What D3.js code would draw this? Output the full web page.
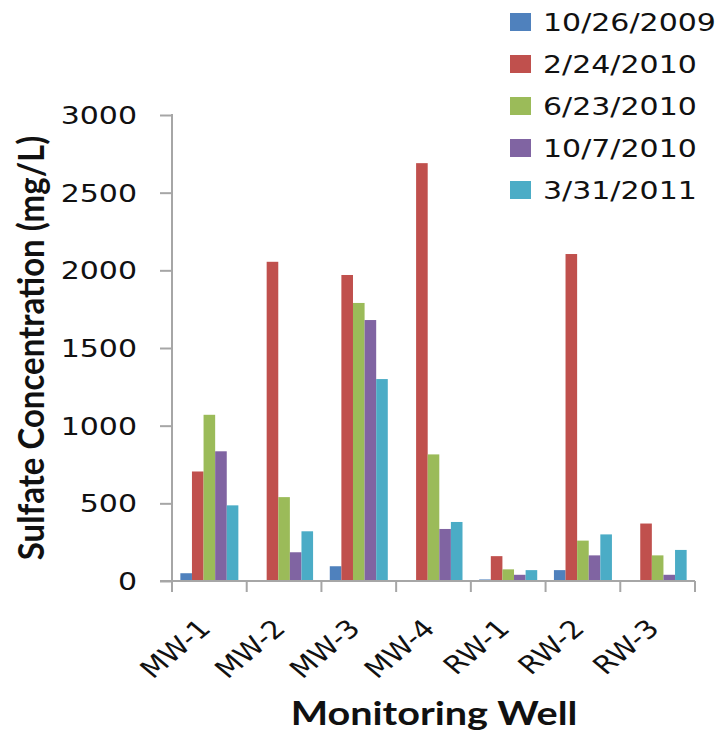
<!DOCTYPE html>
<html>
<head>
<meta charset="utf-8">
<script src="https://cdn.jsdelivr.net/npm/d3@7"></script>
<style>
  html, body { margin: 0; padding: 0; background: #fff; }
  svg { display: block; }
</style>
</head>
<body>
<svg id="chart" width="725" height="733"></svg>
<script>
// Monitoring wells and sampling dates
const wells = ["MW-1", "MW-2", "MW-3", "MW-4", "RW-1", "RW-2", "RW-3"];
const dates = ["10/26/2009", "2/24/2010", "6/23/2010", "10/7/2010", "3/31/2011"];

// Sulfate concentration (mg/L) per well, one array per sampling date
const oct2009 = [50, 0, 95, 0, 10, 70, 0];
const feb2010 = [705, 2055, 1970, 2690, 160, 2105, 370];
const jun2010 = [1070, 540, 1790, 815, 75, 260, 165];
const oct2010 = [835, 185, 1680, 335, 40, 165, 40];
const mar2011 = [487, 320, 1300, 380, 70, 300, 200];
const seriesValues = [oct2009, feb2010, jun2010, oct2010, mar2011];

const seriesColors = ["#4F81BD", "#C0504D", "#9BBB59", "#8064A2", "#4BACC6"];
const yTicks = [0, 500, 1000, 1500, 2000, 2500, 3000];

const svg = d3.select("#chart");
const plot = { left: 172, right: 695, top: 115, bottom: 581 };
const sx = 1.2; // horizontal widening applied to all text

const x = d3.scaleBand().domain(wells).range([plot.left, plot.right]).paddingInner(0).paddingOuter(0);
const xs = d3.scaleBand().domain(dates).range([0, x.bandwidth()]).paddingInner(0).paddingOuter(0.72);
const y = d3.scaleLinear().domain([0, 3000]).range([plot.bottom, plot.top]);

const axisColor = "#a6a6a6";

// Bars
const rows = [];
seriesValues.forEach((vals, si) => {
  vals.forEach((v, wi) => rows.push({ well: wells[wi], date: dates[si], value: v, si }));
});
svg.append("g").selectAll("rect")
  .data(rows.filter(d => d.value > 0))
  .join("rect")
  .attr("x", d => x(d.well) + xs(d.date))
  .attr("y", d => y(d.value))
  .attr("width", xs.bandwidth())
  .attr("height", d => y(0) - y(d.value))
  .attr("fill", d => seriesColors[d.si]);

// Y axis
const yAxis = svg.append("g").attr("transform", `translate(${plot.left},0)`)
  .call(d3.axisLeft(y).tickValues(yTicks).tickSize(12).tickFormat(""));
yAxis.select(".domain").remove();
yAxis.selectAll(".tick line").attr("stroke", axisColor).attr("stroke-width", 2);
svg.append("line")
  .attr("x1", plot.left).attr("x2", plot.left)
  .attr("y1", plot.top - 1).attr("y2", plot.bottom + 11)
  .attr("stroke", axisColor).attr("stroke-width", 2);

svg.append("g").selectAll("text")
  .data(yTicks)
  .join("text")
  .attr("transform", d => `translate(137,${y(d) + 9}) scale(${sx},1)`)
  .attr("text-anchor", "end")
  .attr("font-family", "DejaVu Sans")
  .attr("font-size", 25)
  .attr("fill", "#111")
  .text(d => d);

// X axis
svg.append("line")
  .attr("x1", plot.left - 12).attr("x2", plot.right)
  .attr("y1", plot.bottom).attr("y2", plot.bottom)
  .attr("stroke", axisColor).attr("stroke-width", 2);
const xTickPos = wells.map(w => x(w)).concat([plot.right]);
svg.append("g").selectAll("line")
  .data(xTickPos)
  .join("line")
  .attr("x1", d => d).attr("x2", d => d)
  .attr("y1", plot.bottom).attr("y2", plot.bottom + 11)
  .attr("stroke", axisColor).attr("stroke-width", 2);

svg.append("g").selectAll("text")
  .data(wells)
  .join("text")
  .attr("transform", d => `translate(${x(d) + x.bandwidth() / 2 + 3},630) scale(${sx},1) rotate(-45)`)
  .attr("text-anchor", "end")
  .attr("font-family", "DejaVu Sans")
  .attr("font-size", 25)
  .attr("fill", "#111")
  .text(d => d);

// Axis titles
svg.append("text")
  .attr("transform", `translate(434,725) scale(${sx},1)`)
  .attr("text-anchor", "middle")
  .attr("font-family", "Lato")
  .attr("font-weight", "bold")
  .attr("font-size", 33)
  .attr("fill", "#111")
  .text("Monitoring Well");

svg.append("text")
  .attr("transform", `translate(44,348) scale(1.1,1) rotate(-90)`)
  .attr("text-anchor", "middle")
  .attr("font-family", "Lato")
  .attr("font-weight", "bold")
  .attr("font-size", 33)
  .attr("fill", "#111")
  .text("Sulfate Concentration (mg/L)");

// Legend
const legend = svg.append("g").selectAll("g")
  .data(dates)
  .join("g")
  .attr("transform", (d, i) => `translate(510,${22 + i * 42})`);
legend.append("rect")
  .attr("x", 0).attr("y", -9)
  .attr("width", 21).attr("height", 18)
  .attr("fill", (d, i) => seriesColors[i]);
legend.append("text")
  .attr("transform", `translate(33,9) scale(${sx},1)`)
  .attr("font-family", "DejaVu Sans")
  .attr("font-size", 25)
  .attr("fill", "#111")
  .text(d => d);
</script>
</body>
</html>
